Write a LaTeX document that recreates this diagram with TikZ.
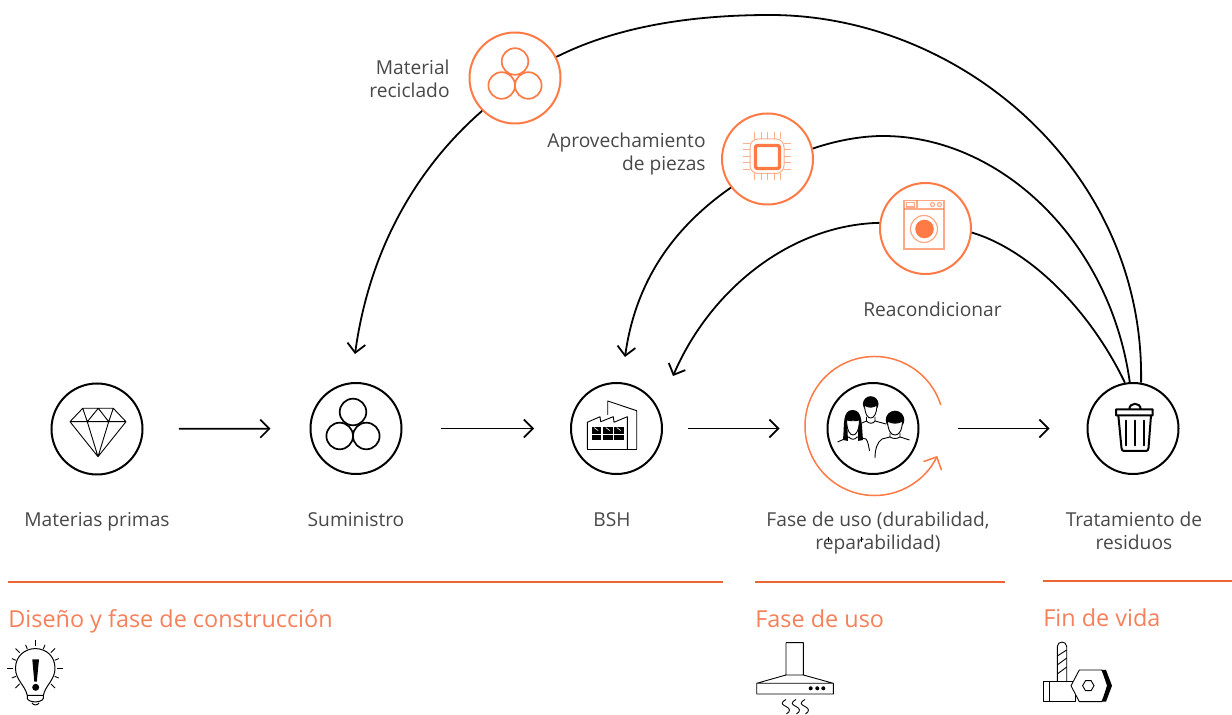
\documentclass[tikz,border=0pt]{standalone}
\usepackage{fontspec}
\setmainfont{Open Sans}
\usetikzlibrary{arrows.meta}
\definecolor{ringorange}{HTML}{FF7A45}
\definecolor{barorange}{HTML}{EC6535}
\definecolor{headorange}{HTML}{F6805A}
\definecolor{labelgray}{HTML}{484848}
\tikzset{
  stage/.style={circle, draw=black, line width=1pt, minimum size=45.5pt, inner sep=0pt, fill=white},
  loopstage/.style={circle, draw=ringorange, line width=1pt, minimum size=45.5pt, inner sep=0pt, fill=white},
  flowline/.style={->, >={Straight Barb[length=4.5pt,width=9pt]}, line width=0.85pt},
  returnline/.style={line width=0.9pt},
  caption/.style={font=\fontsize{9.6pt}{11.7pt}\selectfont, text=labelgray, inner sep=0pt},
  phase/.style={font=\fontsize{11.7pt}{14pt}\selectfont, text=headorange, inner sep=0pt, anchor=west},
  phasebar/.style={draw=barorange, line width=1.4pt},
  thin icon/.style={line width=0.45pt},
  orange icon/.style={draw=ringorange, line width=0.85pt}
}
\begin{document}
\begin{tikzpicture}[x=0.5pt, y=-0.5pt]
  \useasboundingbox (0,0) rectangle (1232,715);

  % Main row of stages
  \node[stage] (raw) at (97,429) {};
  \node[stage] (supply) at (356,428.5) {};
  \node[stage] (bsh) at (616.5,428.5) {};
  \node[stage] (use) at (873,428.5) {};
  \node[stage] (waste) at (1133,428.5) {};

  % Stages of the return loops
  \node[loopstage] (recycled) at (515,78) {};
  \node[loopstage] (parts) at (767.5,159) {};
  \node[loopstage] (refurb) at (925.5,228.5) {};

  % Free ends of the return arrows
  \coordinate (supplyin) at (355,354);
  \coordinate (bshinner) at (625,357);
  \coordinate (bshouter) at (673,376);

  % Straight arrows
  \draw[flowline, shorten <=17.7pt, shorten >=19.5pt] (raw) -- (supply);
  \draw[flowline, shorten <=19.2pt, shorten >=18pt] (supply) -- (bsh);
  \draw[flowline, shorten <=12.7pt, shorten >=23.5pt] (bsh) -- (use);
  \draw[flowline, shorten <=19.2pt, shorten >=18.5pt] (use) -- (waste);

  % Return arrows
  \draw[returnline] (waste.80) .. controls (1145,170) and (960,15) .. (770,15) .. controls (680,15) and (610,30) .. (recycled.27);
  \draw[returnline] (waste.94) .. controls (1110,240) and (1000,136) .. (883,136) .. controls (860,136) and (835,141) .. (parts.13);
  \draw[returnline] (waste.100) .. controls (1090,310) and (1030,250) .. (refurb.-5);
  \draw[flowline, line width=0.9pt] (recycled.225) .. controls (420,165) and (370,245) .. (supplyin);
  \draw[flowline, line width=0.9pt] (parts.218) .. controls (670,230) and (635,285) .. (bshinner);
  \draw[flowline, line width=0.9pt] (refurb.173) .. controls (790,225) and (710,290) .. (bshouter);

  % Ring round the use stage
  \draw[draw=ringorange, line width=0.75pt, ->, >={Straight Barb[length=5pt,width=10pt]}]
    (874.5,426) ++(-17.6:69.5) arc[start angle=-17.6, end angle=-334.5, radius=69.5];

  % Diamond
  \draw[thin icon, line join=round] (82.7,408.3) -- (113.3,408.3) -- (126,421.7) -- (98,456.7) -- (70,421.7) -- cycle
    (70,421.7) -- (126,421.7)
    (82.7,408.3) -- (87.3,421.7) -- (98.3,408.3) -- (108.7,421.7) -- (113.3,408.3)
    (87.3,421.7) -- (98,456.7) -- (108.7,421.7);

  % Three wires
  \foreach \dx/\dy in {0/-17, -13.3/7, 13.3/7} {
    \draw[line width=0.85pt] (353+\dx,429+\dy) circle[radius=13.3];
    \draw[orange icon] (515+\dx,78+\dy+0.5) circle[radius=13.3];
  }

  % Factory
  \draw[thin icon, line join=round] (587.3,449) -- (587.3,422.3) -- (600,416.7) -- (600.7,421.7) -- (613.3,416.7) -- (614,422.3) -- (627.3,416.7) -- (627.3,449)
    (607.7,415) -- (607.7,401) -- (636.7,410.7) -- (636.7,449);
  \draw[thin icon] (587.3,449) -- (636.7,449);
  \foreach \x in {591.7,603.3,614.3} {
    \fill (\x,427.3) rectangle ++(9.6,6.4);
    \fill (\x,435) rectangle ++(9.6,5.3);
    \draw[white, line width=0.3pt] (\x+2.5,427.6) -- ++(4,3);
  }

  % People
  \fill (870.7,404) circle[radius=7.8];
  \draw[thin icon, fill=white] (864.5,405) .. controls (865,415) and (868,418) .. (870.7,418) .. controls (873.5,418) and (876.5,415) .. (877,405) .. controls (873,408) and (868,408) .. cycle;
  \draw[thin icon] (866.5,417) -- (866.5,421) -- (862,423) (875,417) -- (875,421) -- (886,424) (866.5,421) .. controls (869,424) and (873,424) .. (875,421);
  \fill (843,440) .. controls (844.5,425) and (842,410) .. (852.7,410) .. controls (863,410) and (861.5,425) .. (863,440) -- (858,441) -- (858,420) -- (847,420) -- (848,441) -- cycle;
  \draw[thin icon, fill=white] (846.5,420) .. controls (847,431) and (850,435) .. (853,435) .. controls (856,435) and (859,431) .. (859.5,420) .. controls (855,421) and (851,421) .. cycle;
  \draw[thin icon] (837.5,442) -- (849,437) (849,437) .. controls (851,440) and (855,440) .. (857,437) (857,437) -- (866,439) .. controls (868,441) and (869,448) .. (869.5,451);
  \fill (895,420) circle[radius=9.3];
  \draw[thin icon, fill=white] (887.5,421) .. controls (888,431) and (891,435) .. (895,435) .. controls (899,435) and (902,431) .. (902.5,421) .. controls (898,424) and (892,424) .. cycle;
  \draw[thin icon] (890,433) -- (890,437) -- (882,439) .. controls (877,442) and (875,450) .. (875,458) (890,437) .. controls (893,439) and (897,439) .. (900,437) (900,433) -- (900,437) -- (909.5,440);

  % Bin
  \draw[line width=1pt, line join=round] (1116,409.3) rectangle (1152.7,415.3)
    (1129.3,409.3) .. controls (1129.3,402) and (1140.7,402) .. (1140.7,409.3);
  \draw[line width=1pt, line join=round] (1118.3,415.3) -- (1121.5,448) .. controls (1121.7,450) and (1122.5,451) .. (1124,451) -- (1146,451) .. controls (1147.5,451) and (1148.3,450) .. (1148.5,448) -- (1151,415.3);
  \foreach \x in {1126,1135,1144} {
    \draw[line width=0.9pt, line cap=round] (\x,420.5) -- (\x,445.5);
  }

  % Chip
  \draw[orange icon, line width=1.7pt, rounded corners=1pt] (755.5,145.5) rectangle (779.5,168.5);
  \draw[draw=ringorange, opacity=0.6, line width=0.5pt, rounded corners=4pt] (750,139) rectangle (784,173.5);
  \foreach \t in {0,1,2,3,4} {
    \draw[draw=ringorange, opacity=0.6, line width=0.5pt] (754.5+6.5*\t,132) -- ++(0,7) (754.5+6.5*\t,173.5) -- ++(0,7)
      (743,143.5+6.5*\t) -- ++(7,0) (784,143.5+6.5*\t) -- ++(7,0);
  }

  % Washing machine
  \begin{scope}[draw=ringorange, line width=0.6pt, opacity=0.65]
    \draw (904,200.5) rectangle (944,249);
    \draw (904,209) -- (944,209) (917,200.5) -- (917,209);
    \draw (906.5,202.5) rectangle (914.5,207);
    \draw (932.5,204.5) circle[radius=2] (939.5,204.5) circle[radius=2];
    \draw (924,229) circle[radius=13.5];
  \end{scope}
  \fill[ringorange] (924.5,229) circle[radius=9.3];

  % Phase bars
  \coordinate (barone) at (8,582);
  \coordinate (baronend) at (722.5,582);
  \coordinate (bartwo) at (755,582);
  \coordinate (bartwoend) at (1004.5,582);
  \coordinate (barthree) at (1043,581);
  \coordinate (barthreeend) at (1232,581);
  \draw[phasebar] (barone) -- (baronend);
  \draw[phasebar] (bartwo) -- (bartwoend);
  \draw[phasebar] (barthree) -- (barthreeend);

  % Bulb
  \draw[thin icon, line width=0.5pt, line join=round] (27.3,695.5) .. controls (25,685) and (15.5,680) .. (15.5,668.3) .. controls (15.5,656) and (25,648.6) .. (35.3,648.6) .. controls (46,648.6) and (55,656) .. (55,668.3) .. controls (55,680) and (45.5,685) .. (43.3,695.5) -- cycle
    (27.3,695.5) -- (27.3,698.5) .. controls (29,703) and (41.5,703) .. (43.3,698.5) -- (43.3,695.5)
    (32,703) .. controls (33,705.5) and (38,705.5) .. (39,703);
  \foreach \a in {0,45,90,135,180,225,-45} {
    \draw[thin icon] (35.3,668.3) ++(-\a:22) -- ++(-\a:6);
  }
  \foreach \a in {22.5,67.5,112.5,157.5,202.5,-22.5} {
    \draw[thin icon] (35.3,668.3) ++(-\a:21) -- ++(-\a:4.4);
  }
  \fill (32.3,659.3) -- (39,659.3) -- (36.8,681.7) -- (34.3,681.7) -- cycle;
  \fill (35.7,687.3) circle[radius=3.5];

  % Hood
  \draw[thin icon, line join=round] (786,675) -- (786,642.7) -- (803.3,642.7) -- (803.3,675) -- cycle
    (786,675) -- (756.7,683.3) -- (833.3,683.3) -- (803.3,675)
    (756.7,683.3) rectangle (833.3,694);
  \foreach \x in {786,796,805} {
    \draw[thin icon] (\x,699.5) .. controls (\x-6,703) and (\x-4,704.5) .. (\x,706.5) .. controls (\x+4,708.5) and (\x+5,711) .. (\x+0.5,714);
  }
  \foreach \x in {810.7,817.3,823.3} {
    \fill (\x,688.3) circle[radius=2];
  }

  % Tool
  \draw[thin icon, line join=round] (1057.3,681.7) -- (1057.3,646.7) .. controls (1057.3,640.5) and (1066.7,640.5) .. (1066.7,646.7) -- (1066.7,681.7);
  \draw[thin icon] (1057.3,656) -- (1066.7,650) (1057.3,665) -- (1066.7,658) (1057.3,674) -- (1066.7,667);
  \draw[thin icon, line join=round] (1043.3,681.7) rectangle (1075,701.7) (1049.3,681.7) -- (1049.3,701.7);
  \draw[thin icon, fill=white, line join=round] (1071,685.7) -- (1079.3,670) -- (1101.7,670) -- (1110.7,685.7) -- (1101.7,701.7) -- (1079.3,701.7) -- cycle;
  \fill (1101.7,670) -- (1106,670) -- (1112,685.7) -- (1106,701.7) -- (1101.7,701.7) -- (1107,685.7) -- cycle;
  \draw[thin icon] (1082.6,685.7) -- (1085.5,680.7) -- (1091.1,680.7) -- (1094,685.7) -- (1091.1,690.7) -- (1085.5,690.7) -- cycle;

  % Stage captions
  \node[caption] (rawlabel) at (97,522) {Materias primas};
  \node[caption] (supplylabel) at (356,520) {Suministro};
  \node[caption] (bshlabel) at (612,520) {BSH};
  \node[caption, align=center] (uselabel) at (878,533) {Fase de uso (durabilidad,\\reparabilidad)};
  \node[caption, align=center] (wastelabel) at (1134,531) {Tratamiento de\\residuos};
  \node[caption, align=right, anchor=east] (recycledlabel) at (450,79) {Material\\reciclado};
  \node[caption, align=right, anchor=east] (partslabel) at (706,154) {Aprovechamiento\\de piezas};
  \node[caption] (refurblabel) at (932.5,309) {Reacondicionar};

  % Phase headings
  \node[phase] (designhead) at (8,621) {Diseño y fase de construcción};
  \node[phase] (usehead) at (755,619) {Fase de uso};
  \node[phase] (endhead) at (1043,618) {Fin de vida};

  % Ticks in the second caption line
  \draw[line width=0.4pt] (828,537.5) -- (828,542.5) (861.5,537.5) -- (861.5,542.5);
\end{tikzpicture}
\end{document}
